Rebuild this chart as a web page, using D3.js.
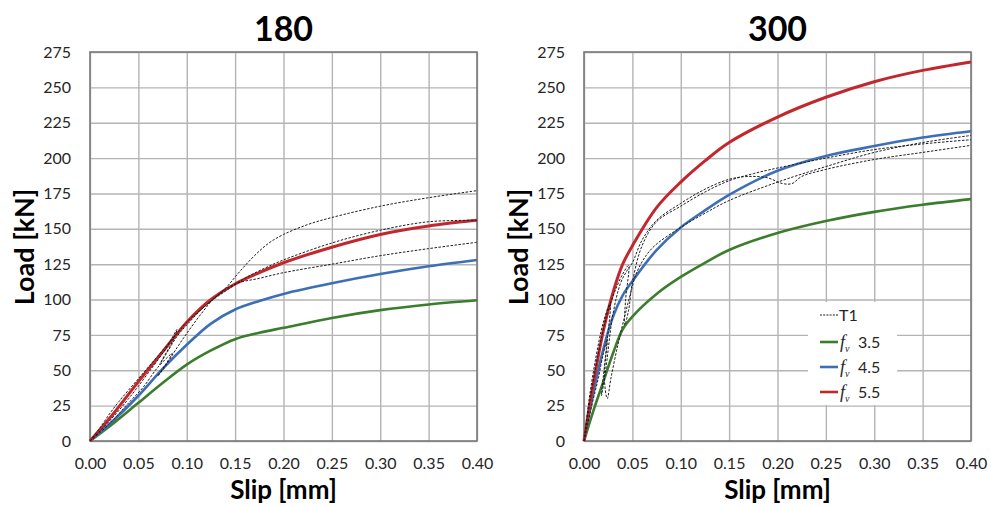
<!DOCTYPE html>
<html>
<head>
<meta charset="utf-8">
<script src="https://cdn.jsdelivr.net/npm/d3@7"></script>
<style>
body{margin:0;background:#fff}
text{font-family:Lato,"Open Sans",sans-serif}
</style>
</head>
<body>
<svg id="chart"></svg>
<script>
// tick values
const slipTicks = [0, 0.05, 0.10, 0.15, 0.20, 0.25, 0.30, 0.35, 0.40]
const loadTicks = [0, 25, 50, 75, 100, 125, 150, 175, 200, 225, 250, 275]

// panel 180 : [slip mm, load kN]
const left_f35 = [[0,0],[0.025,13],[0.05,27],[0.075,41],[0.1,54],[0.125,64],[0.15,72],[0.175,76.5],[0.2,80],[0.25,87],[0.3,92.5],[0.35,96.5],[0.4,99.5]]
const left_f45 = [[0,0],[0.025,15],[0.05,32],[0.075,51],[0.1,68],[0.125,83],[0.15,93],[0.175,99],[0.2,104],[0.25,111.5],[0.3,118],[0.35,123.5],[0.4,128]]
const left_f55 = [[0,0],[0.025,20],[0.05,42],[0.075,63],[0.1,84],[0.125,100],[0.15,111],[0.175,119],[0.2,126],[0.25,137],[0.3,146],[0.35,152],[0.4,156]]
const left_t1a = [[0,0],[0.01,9],[0.02,19],[0.03,28],[0.05,44],[0.07,60],[0.09,76],[0.1,84],[0.12,96],[0.14,108],[0.155,120],[0.17,131],[0.185,140],[0.2,146],[0.225,153],[0.25,158],[0.3,166],[0.35,172],[0.4,177]]
const left_t1b = [[0,0],[0.02,14],[0.04,30],[0.06,48],[0.08,67],[0.09,79],[0.085,70],[0.075,58],[0.072,54],[0.08,63],[0.09,74],[0.1,82],[0.12,96],[0.14,106],[0.16,115],[0.18,122],[0.2,128],[0.25,140],[0.3,149],[0.35,155],[0.4,156]]
const left_t1c = [[0,0],[0.02,12],[0.04,27],[0.055,38],[0.07,52],[0.085,62],[0.078,54],[0.07,46],[0.075,50],[0.09,66],[0.1,76],[0.115,90],[0.13,102],[0.15,111],[0.175,115],[0.2,119],[0.25,125],[0.3,131],[0.35,136],[0.4,140.5]]

// panel 300
const right_f35 = [[0,0],[0.01,22],[0.02,42],[0.03,62],[0.04,79],[0.05,88],[0.075,104],[0.1,116],[0.125,126],[0.15,135],[0.2,147],[0.25,155.5],[0.3,162],[0.35,167],[0.4,171]]
const right_f45 = [[0,0],[0.01,35],[0.02,65],[0.03,88],[0.04,103],[0.05,113],[0.075,135],[0.1,151],[0.125,163],[0.15,174],[0.2,191],[0.25,201.5],[0.3,208.5],[0.35,214.5],[0.4,219]]
const right_f55 = [[0,0],[0.01,42],[0.02,78],[0.03,105],[0.04,125],[0.05,138],[0.075,165],[0.1,183],[0.125,198],[0.15,211],[0.2,229],[0.25,243],[0.3,254],[0.35,262],[0.4,268]]
const right_t1a = [[0,0],[0.005,28],[0.012,58],[0.02,84],[0.027,97],[0.023,65],[0.018,32],[0.022,48],[0.03,90],[0.038,112],[0.045,121],[0.05,126],[0.06,142],[0.075,156],[0.1,168],[0.125,178],[0.15,185],[0.17,187],[0.19,186],[0.205,182],[0.215,182],[0.225,187],[0.25,192],[0.3,199],[0.35,204],[0.4,209]]
const right_t1b = [[0,0],[0.008,36],[0.016,66],[0.024,90],[0.032,106],[0.04,118],[0.046,124],[0.043,100],[0.042,82],[0.046,92],[0.05,112],[0.06,138],[0.075,155],[0.1,166],[0.125,176],[0.15,184],[0.175,189],[0.2,193],[0.25,200],[0.3,206],[0.35,210],[0.4,213]]
const right_t1c = [[0,0],[0.008,25],[0.015,45],[0.02,62],[0.024,72],[0.021,45],[0.024,30],[0.028,45],[0.035,68],[0.042,88],[0.048,104],[0.055,120],[0.07,136],[0.1,151],[0.125,161],[0.15,170],[0.2,183],[0.25,194],[0.3,204],[0.35,211],[0.4,216]]

const legendLabels = ["3.5", "4.5", "5.5"]
const colors = ["#3b7d2c", "#3d6fb6", "#c1272d"]

const W = 991, H = 507
const plotTop = 52, plotBottom = 441, pw = 387

const svg = d3.select("#chart").attr("width", W).attr("height", H)

const panels = [
	{title:"180", left:90, fv:[left_f35,left_f45,left_f55], t1:[left_t1a,left_t1b,left_t1c], legend:false},
	{title:"300", left:584, fv:[right_f35,right_f45,right_f55], t1:[right_t1a,right_t1b,right_t1c], legend:true},
]

panels.forEach(p => {
	const x = d3.scaleLinear().domain([0, 0.4]).range([p.left, p.left + pw])
	const y = d3.scaleLinear().domain([0, 275]).range([plotBottom, plotTop])
	const g = svg.append("g")

	// grid
	g.append("g")
		.attr("transform", `translate(0,${plotBottom})`)
		.call(d3.axisBottom(x).tickValues(slipTicks).tickSize(-(plotBottom - plotTop)).tickFormat(""))
		.call(s => s.select(".domain").remove())
		.call(s => s.selectAll("line").attr("stroke", "#b4b4b4").attr("stroke-width", 1.4))
	g.append("g")
		.attr("transform", `translate(${p.left},0)`)
		.call(d3.axisLeft(y).tickValues(loadTicks).tickSize(-pw).tickFormat(""))
		.call(s => s.select(".domain").remove())
		.call(s => s.selectAll("line").attr("stroke", "#b4b4b4").attr("stroke-width", 1.4))

	g.append("rect")
		.attr("x", p.left).attr("y", plotTop)
		.attr("width", pw).attr("height", plotBottom - plotTop)
		.attr("fill", "none").attr("stroke", "#7a7a7a").attr("stroke-width", 1.6)

	// tick labels
	g.append("g")
		.attr("transform", `translate(0,${plotBottom})`)
		.call(d3.axisBottom(x).tickValues(slipTicks).tickSize(0).tickPadding(17).tickFormat(d3.format(".2f")))
		.call(s => s.select(".domain").remove())
		.call(s => s.selectAll("text").attr("font-size", 16).attr("fill", "#262626")
			.attr("font-family", "Lato, 'Open Sans', sans-serif"))
	g.append("g")
		.attr("transform", `translate(${p.left},0)`)
		.call(d3.axisLeft(y).tickValues(loadTicks).tickSize(0).tickPadding(19))
		.call(s => s.select(".domain").remove())
		.call(s => s.selectAll("text").attr("font-size", 16).attr("fill", "#262626")
			.attr("font-family", "Lato, 'Open Sans', sans-serif"))

	// legend backing sits under the curves
	if (p.legend) {
		g.append("rect")
			.attr("x", p.left + 224).attr("y", 302)
			.attr("width", 89).attr("height", 103)
			.attr("fill", "#fff")
	}

	const line = d3.line()
		.x(d => x(d[0])).y(d => y(d[1]))
		.curve(d3.curveCatmullRom.alpha(0.5))

	g.selectAll(".fv")
		.data(p.fv)
		.join("path")
		.attr("class", "fv")
		.attr("d", line)
		.attr("fill", "none")
		.attr("stroke", (d, i) => colors[i])
		.attr("stroke-width", (d, i) => i == 2 ? 3 : 2.6)

	g.selectAll(".t1")
		.data(p.t1)
		.join("path")
		.attr("class", "t1")
		.attr("d", line)
		.attr("fill", "none")
		.attr("stroke", "#1e1e1e")
		.attr("stroke-width", 1)
		.attr("stroke-dasharray", "2.5,1.5")

	// titles
	g.append("text")
		.attr("x", p.left + pw / 2).attr("y", 41)
		.attr("text-anchor", "middle")
		.attr("font-size", 34).attr("font-weight", "bold")
		.text(p.title)
	g.append("text")
		.attr("x", p.left + pw / 2).attr("y", 499)
		.attr("text-anchor", "middle")
		.attr("font-size", 26).attr("font-weight", "bold")
		.text("Slip [mm]")
	g.append("text")
		.attr("transform", `translate(${p.left - 56},247) rotate(-90)`)
		.attr("text-anchor", "middle")
		.attr("font-size", 27).attr("font-weight", "bold")
		.text("Load [kN]")

	if (p.legend) {
		const lx = p.left + 236
		const lg = g.append("g")
		lg.append("line")
			.attr("x1", lx).attr("x2", lx + 18).attr("y1", 315).attr("y2", 315)
			.attr("stroke", "#1e1e1e").attr("stroke-dasharray", "2,1.2")
		lg.append("text")
			.attr("x", lx + 19).attr("y", 315).attr("dy", "0.35em")
			.attr("font-size", 16).attr("fill", "#262626")
			.text("T1")
		legendLabels.forEach((lab, i) => {
			const ly = 342 + i * 25
			lg.append("line")
				.attr("x1", lx).attr("x2", lx + 18).attr("y1", ly).attr("y2", ly)
				.attr("stroke", colors[i]).attr("stroke-width", 2.6)
			const t = lg.append("text")
				.attr("x", lx + 20).attr("y", ly).attr("dy", "0.35em")
				.attr("font-size", 16).attr("fill", "#262626")
			t.append("tspan")
				.attr("font-family", "'Liberation Serif', 'DejaVu Serif', serif")
				.attr("font-style", "italic").attr("font-size", 18).text("f")
			t.append("tspan")
				.attr("font-family", "'Liberation Serif', 'DejaVu Serif', serif")
				.attr("font-style", "italic").attr("font-size", 10).attr("dy", 4).text("v")
			t.append("tspan")
				.attr("x", lx + 38).attr("dy", -4).text(lab)
		})
	}
})
</script>
</body>
</html>
